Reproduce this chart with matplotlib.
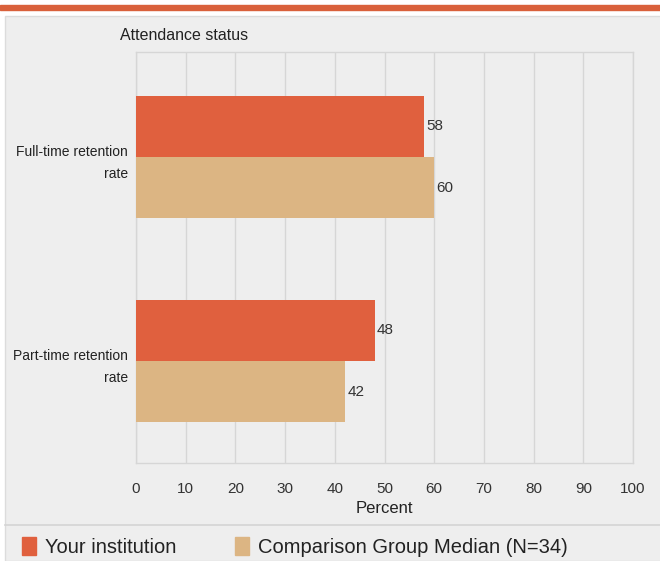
import matplotlib
matplotlib.use("Agg")
import matplotlib.pyplot as plt
from matplotlib.patches import Rectangle
from matplotlib.lines import Line2D

categories = ["Full-time retention\nrate", "Part-time retention\nrate"]
your_institution = [58, 48]
comparison_median = [60, 42]
series_labels = ["Your institution", "Comparison Group Median (N=34)"]
x_ticks = [0, 10, 20, 30, 40, 50, 60, 70, 80, 90, 100]

ORANGE = "#e0603e"
TAN = "#dcb583"
PANEL = "#eeeeee"
GRID = "#d6d6d6"

plt.rcParams["font.family"] = ["Liberation Sans", "DejaVu Sans"]

fig = plt.figure(figsize=(6.6, 5.61), dpi=100)
fig.patch.set_facecolor("white")

# orange rule on top and grey panel behind the chart
fig.add_artist(Rectangle((0, 1 - 10 / 561), 1, 5 / 561, transform=fig.transFigure,
                         color="#d9603b", zorder=0))
fig.add_artist(Rectangle((5 / 660, 0), 1, 1 - 16 / 561, transform=fig.transFigure,
                         facecolor=PANEL, edgecolor="#dcdcdc", linewidth=1.0, zorder=0))
fig.add_artist(Line2D([5 / 660, 1], [1 - 525 / 561] * 2, transform=fig.transFigure,
                      color="#d4d4d4", linewidth=1.2, zorder=1))

ax = fig.add_axes([136 / 660, 1 - 463 / 561, (633 - 136) / 660, (463 - 52) / 561])
ax.set_facecolor(PANEL)

pos = range(len(categories))
h = 0.3
for i in pos:
    ax.barh(i - h / 2, your_institution[i], height=h, color=ORANGE, zorder=3)
    ax.barh(i + h / 2, comparison_median[i], height=h, color=TAN, zorder=3)
    ax.text(your_institution[i] + 0.5, i - h / 2, str(your_institution[i]),
            va="center", ha="left", fontsize=11, color="#333333")
    ax.text(comparison_median[i] + 0.5, i + h / 2, str(comparison_median[i]),
            va="center", ha="left", fontsize=11, color="#333333")

ax.set_xlim(0, 100)
ax.set_ylim(1.5, -0.515)
ax.set_xticks(x_ticks)
ax.set_xticklabels([str(t) for t in x_ticks], fontsize=11, color="#333333")
ax.set_yticks(list(pos))
ax.set_yticklabels(categories, fontsize=10, color="#222222", linespacing=1.75)
ax.tick_params(axis="x", length=0, pad=14)
ax.tick_params(axis="y", length=0, pad=6)
ax.grid(axis="x", color=GRID, linewidth=1.0, zorder=0)
for side in ax.spines.values():
    side.set_color(GRID)
    side.set_linewidth(1.0)
ax.set_xlabel("Percent", fontsize=12, color="#222222", labelpad=3)

fig.text(120 / 660, 1 - 35 / 561, "Attendance status", fontsize=11.5,
         color="#222222", va="center", ha="left")

# legend row under the separator
handles = [Rectangle((0, 0), 1, 1, color=ORANGE), Rectangle((0, 0), 1, 1, color=TAN)]
fig.legend(handles, series_labels, loc="center left", bbox_to_anchor=(12 / 660, 1 - 547 / 561),
           ncol=2, frameon=False, fontsize=14.5, handlelength=0.7, handleheight=1.0,
           handletextpad=0.45, columnspacing=2.9, borderpad=0, labelcolor="#222222")

fig.savefig("out.png", dpi=100)
